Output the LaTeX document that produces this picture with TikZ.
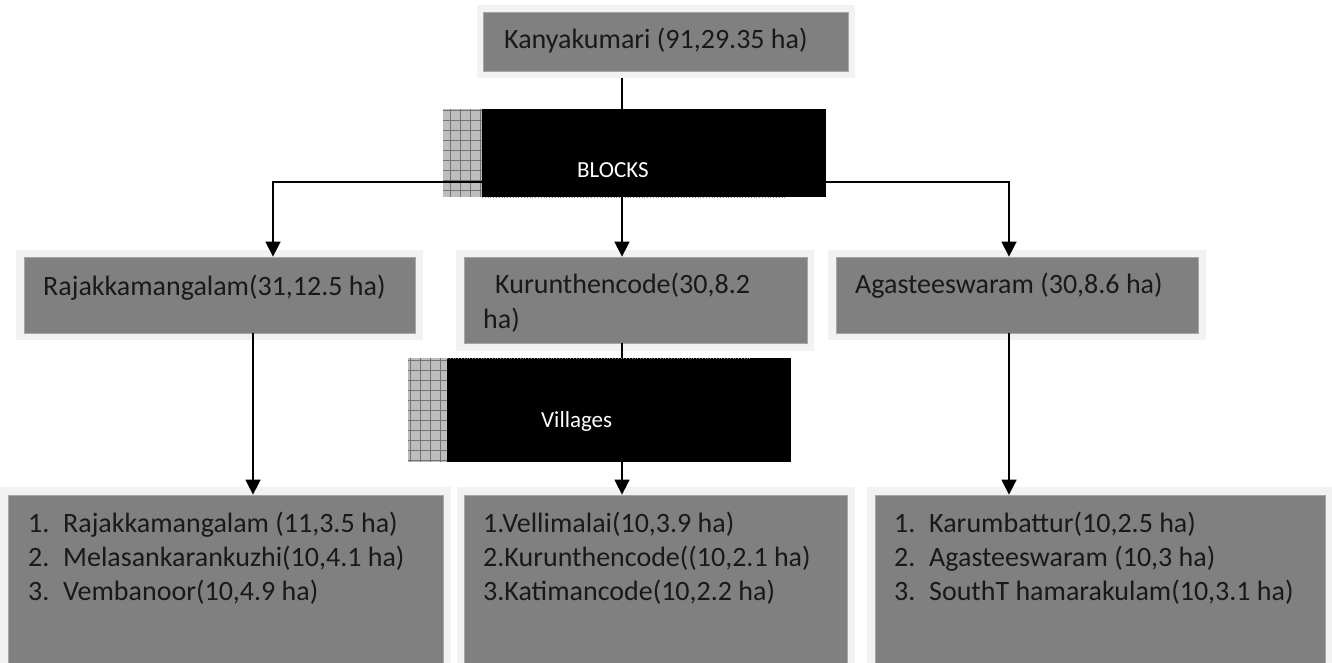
\documentclass[tikz,border=0pt]{standalone}
\usepackage{fontspec}
\setmainfont{Carlito}
\usetikzlibrary{arrows.meta,fit}
\definecolor{outerc}{HTML}{F2F2F2}
\definecolor{innerc}{HTML}{808080}
\definecolor{innerb}{HTML}{A6A6A6}
\definecolor{hatchc}{HTML}{BDBDBD}
\begin{document}
\begin{tikzpicture}[x=1pt,y=-1pt,
  outerbox/.style={fill=outerc, draw=none, inner sep=0pt},
  innerbox/.style={fill=innerc, draw=innerb, line width=0.8pt, inner sep=0pt},
  blackbox/.style={fill=black, draw=none, inner sep=0pt},
  hatchbox/.style={fill=hatchc, draw=none, inner sep=0pt},
  gridlines/.style={black!55, line width=0.6pt},
  bigtxt/.style={font=\fontsize{28}{34}\selectfont, inner sep=0pt, anchor=base west, text=black!90},
  lbltxt/.style={font=\fontsize{23}{28}\selectfont, inner sep=0pt, anchor=base west, text=white},
  conn/.style={line width=1.6pt},
  arr/.style={conn, -{Triangle[width=15pt,length=15pt]}},
  shadowdots/.style={black!45, dotted, line width=0.8pt}]
\useasboundingbox (0,0) rectangle (1332,663);
\clip (0,0) rectangle (1332,663);

% Kanyakumari
\node[outerbox, fit={(477,5) (855,78)}] (kano) {};
\node[innerbox, fit={(483,12) (848,71)}] (kan) {};
\node[bigtxt] (kant) at (504,49) {Kanyakumari (91,29.35 ha)};

% BLOCKS
\node[hatchbox, fit={(443,109) (482,197)}] (bh) {};
\begin{scope}
  \clip (bh.north west) rectangle (bh.south east);
  \draw[gridlines, step=10pt] (bh.north west) grid (bh.south east);
\end{scope}
\node[blackbox, fit={(482,109) (826,197)}] (blk) {};
\coordinate (bdl) at (482,197);
\coordinate (bdr) at (787,197);
\draw[shadowdots] (bdl) -- (bdr);
\node[lbltxt] (blkt) at (577,178) {BLOCKS};

% Block row
\node[outerbox, fit={(16,250) (423,340)}] (rajo) {};
\node[innerbox, fit={(24,257) (415,333)}] (raj) {};
\node[bigtxt] (rajt) at (43,295) {Rajakkamangalam(31,12.5 ha)};

\node[outerbox, fit={(456,250) (814,351)}] (kuro) {};
\node[innerbox, fit={(464,257) (807,343)}] (kur) {};
\node[bigtxt] (kurt1) at (495,293) {Kurunthencode(30,8.2};
\node[bigtxt] (kurt2) at (483,328) {ha)};

\node[outerbox, fit={(828,250) (1206,340)}] (agao) {};
\node[innerbox, fit={(836,257) (1198,333)}] (aga) {};
\node[bigtxt] (agat) at (855,293) {Agasteeswaram (30,8.6 ha)};

% Villages
\node[hatchbox, fit={(408,358) (447,462)}] (vh) {};
\begin{scope}
  \clip (vh.north west) rectangle (vh.south east);
  \draw[gridlines, step=10pt] (vh.north west) grid (vh.south east);
\end{scope}
\node[blackbox, fit={(447,358) (791,462)}] (vil) {};
\coordinate (vdl) at (447,358);
\coordinate (vdr) at (752,358);
\draw[shadowdots] (vdl) -- (vdr);
\node[lbltxt] (vilt) at (541,427) {Villages};

% Bottom row
\node[outerbox, fit={(0,487) (451,675)}] (b1o) {};
\node[innerbox, fit={(8,495) (443,670)}] (b1) {};
\node[bigtxt] (b1t) at (28,532) {\begin{tabular}[t]{@{}p{35pt}@{}l@{}}
1. & Rajakkamangalam (11,3.5 ha)\\
2. & Melasankarankuzhi(10,4.1 ha)\\
3. & Vembanoor(10,4.9 ha)
\end{tabular}};

\node[outerbox, fit={(457,487) (855,675)}] (b2o) {};
\node[innerbox, fit={(464,495) (847,670)}] (b2) {};
\node[bigtxt] (b2t) at (483,532) {\begin{tabular}[t]{@{}l@{}}
1.Vellimalai(10,3.9 ha)\\
2.Kurunthencode((10,2.1 ha)\\
3.Katimancode(10,2.2 ha)
\end{tabular}};

\node[outerbox, fit={(867,487) (1340,675)}] (b3o) {};
\node[innerbox, fit={(875,495) (1325,670)}] (b3) {};
\node[bigtxt] (b3t) at (894,532) {\begin{tabular}[t]{@{}p{35pt}@{}l@{}}
1. & Karumbattur(10,2.5 ha)\\
2. & Agasteeswaram (10,3 ha)\\
3. & SouthT hamarakulam(10,3.1 ha)
\end{tabular}};

% Connectors
\coordinate (xm) at (622,0);
\coordinate (xl) at (273,182);
\coordinate (xr) at (1009,182);
\coordinate (xlb) at (253,0);

\draw[conn] (kano.south -| xm) -- (blk.north -| xm);
\draw[arr] (blk.south -| xm) -- (kur.north -| xm);
\draw[arr] (blk.west |- xl) -| (raj.north -| xl);
\draw[arr] (blk.east |- xr) -| (aga.north -| xr);

\draw[arr] (raj.south -| xlb) -- (b1.north -| xlb);
\draw[conn] (kur.south -| xm) -- (vil.north -| xm);
\draw[arr] (vil.south -| xm) -- (b2.north -| xm);
\draw[arr] (aga.south -| xr) -- (b3.north -| xr);
\end{tikzpicture}
\end{document}
